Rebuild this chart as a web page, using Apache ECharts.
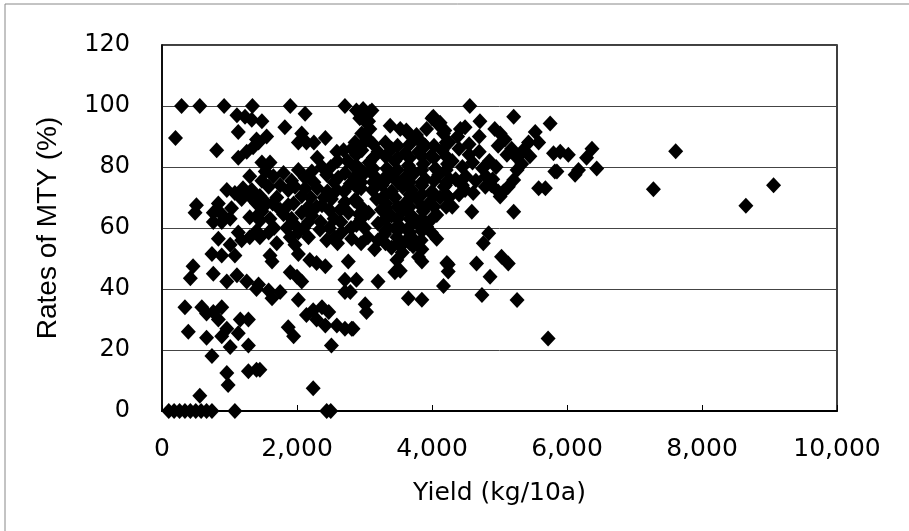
<!DOCTYPE html>
<html>
<head>
<meta charset="utf-8">
<script src="https://cdn.jsdelivr.net/npm/echarts@6/dist/echarts.min.js"></script>
<style>
html,body{margin:0;padding:0;background:#fff;}
#chart{width:909px;height:531px;}
</style>
</head>
<body>
<div id="chart"></div>
<script>
// Axis ticks
var xTicks = [0, 2000, 4000, 6000, 8000, 10000];
var yTicks = [0, 20, 40, 60, 80, 100, 120];
var xAxisName = 'Yield (kg/10a)';
var yAxisName = 'Rates of MTY (%)';

// [yield kg/10a, rate of MTY %]
var zeroRatePoints = [
  [100,0],[180,0],[260,0],[340,0],[420,0],[500,0],[580,0],[660,0],[740,0],[1080,0],[2440,0],[2500,0],[560,5]
];

var lowYieldPoints = [
  [290,100],[560,100],[920,100],[1340,100],
  [200,89.5],[810,85.5],[1110,97],[1230,96.5],[1130,91.5],[1330,95.5],
  [1130,83],[1255,85],[1350,86.5],[1400,89],[1300,77],
  [960,72.5],[1080,71.5],[1200,73],[1330,72.5],
  [510,67.5],[490,65],
  [835,68],[760,65],[885,64.5],[1030,66.5],[1010,63],[885,62],[760,62],
  [1180,69.5],[1300,70.5],[1400,68],[1300,63.5],[1430,64.5],
  [1130,58.5],[1180,56],[1300,57],[1400,59],
  [835,56.5],[1010,54.5],[740,51.5],[885,51],[1080,51],
  [460,47.5],[420,43.5],[760,45],
  [960,42.5],[1110,44.5],[1255,42.5],[1400,40],
  [340,34],[590,34],[660,32],[760,32.5],[885,34],[835,30],[960,27],
  [1160,30],[1280,30],[1130,25.5],
  [390,26],[660,24],[885,24.5],[1010,21],[1280,21.5],
  [740,18],[960,12.5],[980,8.5],[1280,13],[1400,13.5]
];

var midYieldPoints = [
  [1900,100],[2710,100],[2120,97.5],[1480,95],[1820,93],[1550,90],[1430,88],
  [2070,91],[2020,88],[2140,88],[2420,89.5],[2590,85],[2690,85.5],[2810,86],
  [1480,81.5],[1600,81.5],
  [2020,79],[1920,75.5],[2120,76.5],[2220,78.5],[2370,80],[2440,77.5],
  [2610,76.5],[2710,78],[2790,74.5],[2590,72.5],
  [1530,78.5],[1650,77],[1480,75.5],[1580,73.5],
  [1870,72.5],[2070,70.5],[1970,73.5],[2120,73],
  [1450,70.5],[1550,68],
  [1870,67.5],[1800,64.5],[1920,63],[2070,65],[1970,61],[2170,62],
  [2290,67],[2370,67.5],[2510,69.5],[2710,68.5],[2640,66],[2760,65],
  [1480,65.5],[1600,63],[1450,62.5],
  [2020,58.5],[2170,57],[2340,59.5],[2440,56],[2560,57],[2660,58.5],[2810,56.5],
  [1450,57],[1580,58.5],[1700,55],
  [1600,51],[1630,49],[1970,54.5],[2020,51.5],
  [2190,49.5],[2290,48.5],[2420,47.5],[2760,49],
  [1900,45.5],[2000,44],[2070,42.5],[2710,43],
  [1430,41.5],[1580,39.5],[1630,37],[1750,39],
  [2020,36.5],[2710,39],
  [2140,31.5],[2240,33],[2370,34],[2470,32.5],[2290,30],
  [2420,28],[2590,28],[2710,27],[2830,27],
  [1870,27.5],[1950,24.5],
  [2510,21.5],[1450,13.5],[2240,7.5]
];

var midFillPoints = [
  [1700,70],[1750,66],[1660,60],[1850,60],[2200,70],[2300,73],[2450,72],
  [2550,63],[2220,64],[2350,62],[2650,62],[2800,60],[2500,80],[2600,82],
  [1800,78],[2300,83],[2250,88],[1750,74],[1950,68],[2170,67],[2480,66],
  [2400,70],[2700,72],[2850,69],[2250,75],[2550,75],[1640,68],[2100,60],
  [2600,55],[2480,60],[1900,57],[2850,80],[2900,73],[2750,82]
];

var coreClusterPoints = [
  [2880,98.5],[3010,97.5],[3110,98.5],[3010,95],[2980,99],[3080,98],[2930,96],[3060,95],
  [3380,93.5],[3530,92.5],[3650,91],[3770,89.5],[3900,87],
  [4000,96],[4090,94],[4170,91],
  [3060,89],[2860,88],[2960,85.5],[2960,91],[3080,92.5],
  [4020,96.5],[4120,94.5],[4190,92],[3620,92],[3770,90.5],[3920,92.5],
  [2880,84],[3200,85],[3400,86],[3600,84.5],[3800,85],[3980,83.5],[4150,85.5],
  [2900,80],[3070,81.5],[3330,79.5],[3450,82],[3650,80.5],[3870,81],[4050,79.5],[4230,81],
  [2850,76.5],[3000,78],[3150,77],[3280,76],[3420,77.5],[3600,76.5],[3740,78],[3900,76],[4100,77.5],[4260,76],
  [2950,73],[3120,72.5],[3260,74],[3400,72],[3560,73.5],[3700,72.5],[3850,74],[4000,72],[4180,73.5],
  [2880,69],[3180,69.5],[3320,68],[3450,70],[3620,68.5],[3780,69.5],[3950,68],[4120,70],
  [2920,64.5],[3060,65],[3250,66],[3400,64],[3560,65.5],[3700,64],[3870,65.5],[4070,64.3],[4000,63],
  [2880,61],[3000,60],[3200,61.5],[3350,60],[3500,61],[3650,60],[3780,61.5],[3920,60.5],
  [3050,57],[3200,56],[3300,58],[3480,57],[3600,55.5],[3700,57],[3840,56],[4070,56.5],
  [3150,53],[3400,53.5],[3560,52],[3720,54],[3800,50.5],[3850,49],
  [3480,49.5],[3530,46],[3450,45.5],[4220,48.5],[4170,41],[3200,42.5],[2880,43],[2790,39],
  [3650,37],[3850,36.5],[3010,35],[3030,32.5],[2810,27]
];

var coreFillPoints = [
  [2950,87],[3130,87.5],[3310,88],[3490,87],[3670,87.5],[3850,88],[4030,87],[4210,88],
  [3130,83],[3310,83.5],[3490,83],[3670,83],[3850,83.5],[4030,83],[4210,83.5],
  [2950,79],[3130,79.5],[3490,79],[3670,79],[3850,79],[4210,79],
  [2950,75],[3130,75],[3310,75.5],[3490,75],[3670,75],[3850,75],[4030,75.5],[4210,75],
  [3310,71],[3670,71],[3850,71],[4030,70.5],[4210,71],
  [2950,67],[3310,66.5],[3490,67],[3670,67],[3850,67],[4030,67],[4210,67],
  [2950,63],[3310,63],[3490,63],[3670,63],[3850,63],
  [3310,59],[3490,59],[3670,58.5],[3850,59],[3990,58.5],
  [2950,55],[3310,55],[3490,55],[3670,55],[3850,53]
];

var highYieldPoints = [
  [4560,100],[4710,95],[5210,96.5],[5750,94.3],[4420,92.5],[4490,93],
  [4930,92.5],[5010,91],[5080,89],[4980,87],
  [5530,91.5],[5580,88],[5430,88],[5350,85.5],[5450,83.5],[5330,81],[5260,79],
  [5180,86],[5110,84],[5260,83],[5210,75.7],[5130,73.5],[5060,72],[5010,70.3],
  [5800,84.5],[5900,85],[6020,84],[5820,78.5],
  [5580,73],[5680,73],
  [4590,65.3],[5210,65.3],
  [4840,58.3],[4760,55],[4660,48.4],[4860,44],[5030,50.6],[5130,48.4],[4740,38],[5260,36.4],[5720,23.8],
  [4240,48],[4240,45.7],
  [4490,72.5],[4610,71.5],[4790,73.5],[4880,74],[4980,72],
  [6370,86],[6290,83],[6440,79.5],[6170,79],[6120,77.5],[5850,78.5],
  [4250,88],[4400,86],[4550,87.5],[4700,85],[4300,82],[4450,80],[4600,81.5],[4750,79.5],
  [4350,76],[4500,77],[4650,75.5],[4800,77],[4250,70],[4400,71],[4300,67],[4200,74],
  [4850,82],[4950,80],[4900,76],[4700,90],[4380,90],[4550,84],[4450,74]
];

var farYieldPoints = [
  [7280,72.7],[7610,85.2],[8650,67.3],[9060,74]
];

var allPoints = [].concat(zeroRatePoints, lowYieldPoints, midYieldPoints, midFillPoints,
  coreClusterPoints, coreFillPoints, highYieldPoints, farYieldPoints);

var chart = echarts.init(document.getElementById('chart'), null, {renderer: 'canvas'});
var option = {
  animation: false,
  backgroundColor: '#ffffff',
  graphic: [{
    type: 'rect',
    shape: {x: 5, y: 4, width: 1000, height: 1000},
    style: {fill: 'none', stroke: '#888', lineWidth: 1},
    silent: true
  }],
  grid: {
    left: 162, right: 72, top: 45, bottom: 120,
    show: true, borderColor: '#000', borderWidth: 1.5, backgroundColor: '#fff'
  },
  xAxis: {
    type: 'value',
    min: xTicks[0], max: xTicks[xTicks.length - 1], interval: 2000,
    name: xAxisName, nameLocation: 'middle', nameGap: 70,
    nameTextStyle: {fontFamily: 'DejaVu Sans', fontSize: 25, color: '#000'},
    axisLine: {show: true, onZero: false, lineStyle: {color: '#000', width: 2}},
    axisTick: {show: true, inside: true, length: 6, lineStyle: {color: '#000', width: 1}},
    axisLabel: {
      margin: 26, fontFamily: 'DejaVu Sans', fontSize: 25, color: '#000',
      formatter: function (v) { return v.toLocaleString('en-US'); }
    },
    splitLine: {show: false}
  },
  yAxis: {
    type: 'value',
    min: yTicks[0], max: yTicks[yTicks.length - 1], interval: 20,
    name: yAxisName, nameLocation: 'middle', nameGap: 100, nameRotate: 90,
    nameTextStyle: {fontFamily: 'Liberation Sans', fontSize: 28, color: '#000'},
    axisLine: {show: true, lineStyle: {color: '#000', width: 1.5}},
    axisTick: {show: false},
    axisLabel: {margin: 32, fontFamily: 'DejaVu Sans', fontSize: 24, color: '#000'},
    splitLine: {show: true, lineStyle: {color: '#444', width: 1}}
  },
  series: [{
    type: 'scatter',
    data: allPoints,
    symbol: 'diamond',
    symbolSize: [15, 16],
    itemStyle: {color: '#000', opacity: 1},
    z: 5
  }]
};
chart.setOption(option);
</script>
</body>
</html>
